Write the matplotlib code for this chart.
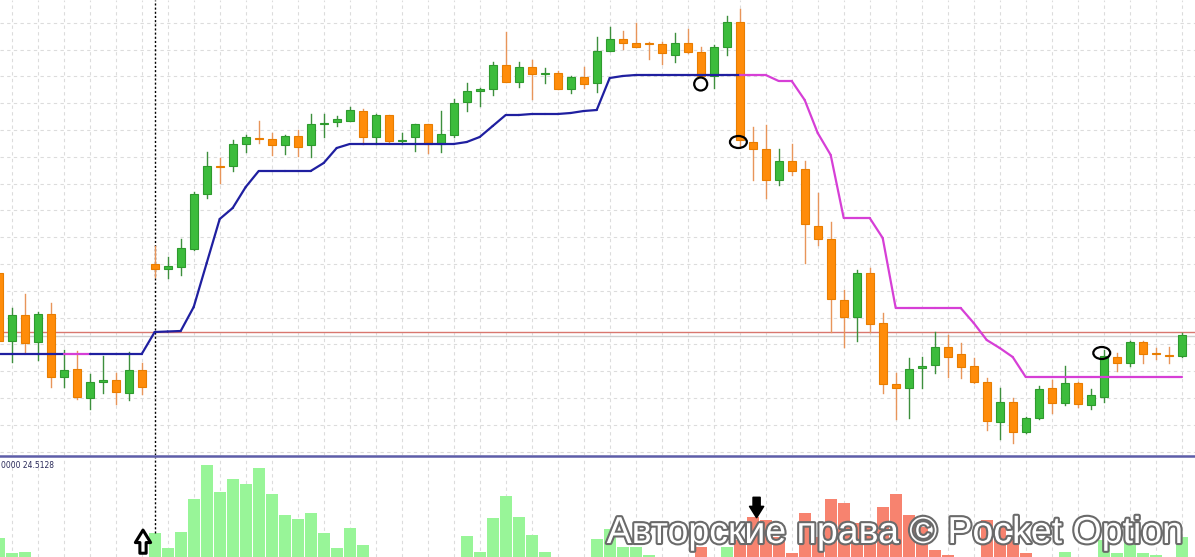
import numpy as np
import matplotlib.pyplot as plt
from matplotlib.collections import LineCollection
from matplotlib.patches import Ellipse, Rectangle
from matplotlib.lines import Line2D
import matplotlib.patheffects as pe

# candles (price units)
opens = [187, 119, 145, 118, 146, 83, 91, 62, 78, 80,
         67, 90, 196, 191, 193, 211, 266, 294, 294, 316,
         322, 321, 315, 324, 315, 336, 338, 339, 349, 323,
         345, 319, 323, 336, 316, 325, 358, 369, 371, 395,
         378, 393, 386, 387, 371, 383, 377, 409, 421, 417,
         417, 416, 405, 417, 408, 384, 413, 438, 318, 311,
         280, 299, 291, 234, 221, 160, 143, 187, 137, 76,
         72, 92, 95, 113, 106, 94, 78, 38, 58, 28,
         42, 72, 57, 77, 55, 63, 103, 97, 118, 107,
         105, 104]
highs = [190, 152, 166, 148, 157, 110, 109, 86, 104, 87,
         108, 97, 214, 203, 221, 268, 308, 302, 320, 325,
         339, 327, 325, 330, 346, 346, 344, 353, 351, 346,
         345, 327, 336, 336, 349, 361, 377, 372, 398, 428,
         398, 400, 392, 389, 384, 393, 423, 433, 429, 437,
         418, 418, 427, 431, 413, 415, 444, 451, 333, 335,
         311, 316, 299, 267, 238, 170, 190, 192, 147, 87,
         102, 103, 128, 125, 117, 102, 82, 72, 62, 43,
         74, 80, 94, 78, 71, 110, 107, 119, 119, 112,
         113, 127]
lows = [119, 98, 107, 100, 73, 73, 61, 51, 67, 56,
        60, 66, 183, 182, 185, 210, 262, 277, 289, 308,
        317, 305, 306, 304, 303, 323, 334, 339, 316, 316,
        318, 316, 309, 307, 308, 323, 349, 354, 365, 378,
        373, 361, 377, 371, 367, 372, 368, 409, 411, 413,
        401, 396, 398, 407, 384, 372, 405, 313, 280, 262,
        275, 285, 197, 215, 128, 113, 119, 128, 67, 41,
        42, 72, 87, 83, 82, 77, 30, 21, 17, 27,
        41, 47, 55, 53, 51, 58, 89, 94, 97, 101,
        97, 103]
closes = [119, 145, 117, 146, 83, 90, 63, 78, 80, 68,
          90, 73, 191, 194, 212, 266, 294, 293, 316, 323,
          321, 315, 324, 313, 336, 337, 341, 350, 323, 345,
          319, 320, 336, 316, 326, 357, 369, 371, 395, 378,
          393, 386, 387, 371, 383, 376, 409, 421, 417, 413,
          416, 407, 417, 408, 384, 413, 438, 320, 311, 280,
          299, 289, 236, 221, 161, 143, 187, 136, 76, 72,
          91, 94, 113, 103, 93, 78, 39, 58, 28, 42,
          71, 57, 77, 56, 65, 104, 97, 118, 106, 106,
          104, 125]

# trailing stop line and its direction (1 up / -1 down)
stop_line = [106] * 12 + [128, 128.5, 129, 153, 197, 241, 252, 273,
             289, 289, 289, 289, 289, 297, 312, 316, 316, 316,
             316, 316, 316, 316, 316, 316, 318, 323, 334, 345,
             345, 346, 346, 346, 347, 349, 350, 382, 384, 385,
             385, 385, 385, 385, 385, 385, 385, 385, 385, 385,
             379, 379, 360, 327, 305, 242, 242, 242, 222, 152,
             152, 152, 152, 152, 152, 137, 120, 112, 103] + [83] * 13
stop_trend = [1] * 6 + [-1, -1] + [1] * 50 + [-1] * 34

# lower histogram: + green, - red
histogram = [19, 4, 5, 0, 0, 0, 0, 0, 0, 0,
             0, 0, 24, 9, 25, 59, 93, 66, 79, 74,
             90, 64, 42, 38, 44, 24, 9, 29, 12, 0,
             0, 0, 0, 0, 0, 0, 21, 5, 39, 62,
             40, 22, 5, 0, 0, 0, 18, 28, 10, 10,
             2, 0, 0, 0, -10, 0, 10, -17, -40, -37,
             -20, -4, -44, -20, -59, -55, -34, -34, -51, -64,
             -42, -30, -7, -2, 0, 0, -37, -30, -17, -4,
             0, 0, 5, 0, 0, 17, 4, 17, 4, 2,
             0, 20]

level_price = 127.7
bid_price = 124.5
entry_bar = 12
buy_signal = 11.1
sell_signal = 58.3
marked = [(54, 376, 1.0, 13), (56.9, 318, 1.3, 12), (84.85, 107, 1.3, 12)]

W, H = 1195, 557
fig = plt.figure(figsize=(W / 100, H / 100), dpi=100)
fig.patch.set_facecolor('white')
ax = fig.add_axes([0, 1 - 455 / H, 1, 455 / H])
ax2 = fig.add_axes([0, 0, 1, 100 / H])

x = np.arange(len(opens))
xlim = (0.1, 0.1 + W / 13)
grid_kw = dict(color='#dcdcdc', linestyle=(0, (3, 3)), linewidth=0.8)

for a in (ax, ax2):
    a.set_xlim(*xlim)
    a.set_xticks(np.arange(1, 93, 2))
    a.tick_params(left=False, bottom=False, labelleft=False, labelbottom=False)
    for s in a.spines.values():
        s.set_visible(False)
    a.grid(axis='x', **grid_kw)
    a.set_axisbelow(True)

ax.set_ylim(5, 460)
ax.set_yticks(437.3 - 26.8 * np.arange(17))
ax.grid(axis='y', **grid_kw)

# level lines
ax.axhline(level_price, color='#d9776f', lw=1.0, zorder=1)
ax.axhline(bid_price, color='#cfcfcf', lw=1.0, zorder=1)
ax.axvline(entry_bar, color='black', ls=(0, (1.5, 1.5)), lw=1.0, zorder=1)

# candles
bw = 0.64
for i in x:
    o, h, l, c = opens[i], highs[i], lows[i], closes[i]
    up = c >= o
    body = '#3cbc3c' if up else '#ff8c0a'
    edge = '#2e9a2e' if up else '#e87d00'
    wick = '#3d8f3d' if up else '#e8955a'
    ax.plot([i, i], [l, h], color=wick, lw=1.0, zorder=2)
    bot, top = min(o, c), max(o, c)
    ax.add_patch(Rectangle((i - bw / 2, bot), bw, max(top - bot, 1.2),
                           facecolor=body, edgecolor=edge, lw=0.8, zorder=3))

# trailing stop
pts = np.column_stack([x, stop_line])
segs = [pts[i - 1:i + 1] for i in range(1, len(pts))]
cols = ['#1f1fa0' if stop_trend[i] > 0 else '#d63fd6' for i in range(1, len(pts))]
ax.add_collection(LineCollection(segs, colors=cols, linewidths=1.6, zorder=4,
                                 capstyle='round', joinstyle='round'))

for cx, cy, w, hgt in marked:
    ax.add_patch(Ellipse((cx, cy), w, hgt, fill=False, edgecolor='black', lw=1.6, zorder=5))

# lower panel
ax2.set_ylim(0, 101)
vals = np.abs(histogram)
colors = ['#98f598' if v > 0 else '#f7836f' for v in histogram]
ax2.bar(x, vals, width=0.94, color=colors, edgecolor='none', zorder=2)
ax2.plot([entry_bar, entry_bar], [24, 101], color='black', ls=(0, (1.5, 1.5)), lw=1.0, zorder=3)

ax2.annotate('', xy=(buy_signal, 30), xytext=(buy_signal, 1),
             arrowprops=dict(arrowstyle='simple,head_width=1.1,head_length=0.9,tail_width=0.45',
                             fc='white', ec='black', lw=2.2), zorder=6)
ax2.annotate('', xy=(sell_signal, 37), xytext=(sell_signal, 63),
             arrowprops=dict(arrowstyle='simple,head_width=1.0,head_length=0.8,tail_width=0.5',
                             fc='black', ec='black', lw=1.2), zorder=6)

ax2.text(0.001, 0.91, '0000 24.5128', transform=ax2.transAxes, fontsize=5.5,
         color='#2a2a5a', va='center', ha='left')

fig.add_artist(Line2D([0, 1], [1 - 456 / H, 1 - 456 / H], transform=fig.transFigure,
                      color='#5d5da8', lw=1.8))

fig.text(0.749, 1 - 533 / H, 'Авторские права © Pocket Option', family='Liberation Sans',
         fontsize=27, color='white', ha='center', va='center',
         path_effects=[pe.withStroke(linewidth=3, foreground='#6a6a6a')])

fig.savefig('out.png', dpi=100)
